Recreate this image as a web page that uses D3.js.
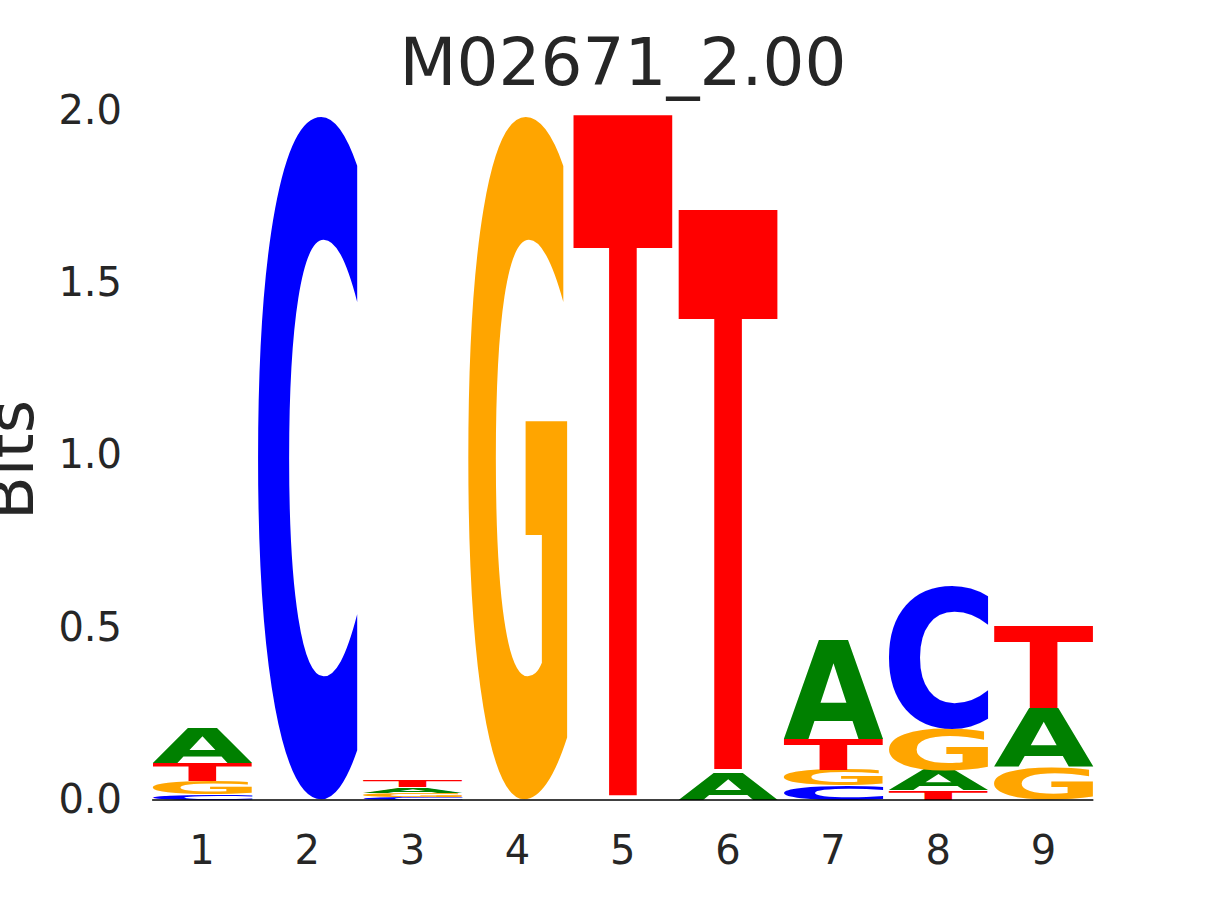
<!DOCTYPE html>
<html><head><meta charset="utf-8">
<script src="https://cdn.jsdelivr.net/npm/d3@7"></script>
<style>body{margin:0;background:#fff;} text{font-family:'DejaVu Sans',sans-serif;}</style>
</head><body><svg id="chart" width="1215" height="900"></svg>
<script>
const positions = [1, 2, 3, 4, 5, 6, 7, 8, 9];
const letters = ['A', 'C', 'G', 'T'];
const bitsA = [0.100, 0.000, 0.016, 0.000, 0.000, 0.079, 0.288, 0.059, 0.170];
const bitsC = [0.017, 1.990, 0.008, 0.000, 0.000, 0.000, 0.042, 0.417, 0.000];
const bitsG = [0.038, 0.000, 0.013, 1.990, 0.000, 0.000, 0.045, 0.120, 0.095];
const bitsT = [0.052, 0.000, 0.020, 0.000, 1.990, 1.636, 0.090, 0.028, 0.241];
const yTicks = [0, 0.5, 1.0, 1.5, 2.0];
const titleText = 'M02671_2.00';
const yLabelText = 'Bits';
const letterColors = {A: '#008000', C: '#0000ff', G: '#ffa500', T: '#ff0000'};

const bits = {A: bitsA, C: bitsC, G: bitsG, T: bitsT};
const svg = d3.select('#chart');
const textColor = '#262626';

const x = d3.scaleBand().domain(positions).range([149.5, 1096]).paddingInner(0.05).paddingOuter(0.025);
const y = d3.scaleLinear().domain([0, 2]).range([800, 111]);

// glyph ink metrics
const ctx = document.createElement('canvas').getContext('2d');
const FS = 200;
ctx.font = `bold ${FS}px 'DejaVu Sans'`;
const metrics = {};
letters.forEach(l => {
  const m = ctx.measureText(l);
  metrics[l] = {L: m.actualBoundingBoxLeft, R: m.actualBoundingBoxRight, A: m.actualBoundingBoxAscent, D: m.actualBoundingBoxDescent};
});

const logo = svg.append('g');
positions.forEach((p, i) => {
  const stack = letters.map(l => ({l, v: bits[l][i]})).filter(d => d.v > 0).sort((a, b) => a.v - b.v);
  let base = 0;
  stack.forEach(d => {
    const m = metrics[d.l];
    const W = m.L + m.R, H = m.A + m.D;
    const bx = x(p), bw = x.bandwidth();
    const yTop = y(base + d.v), yBot = y(base);
    const bh = yBot - yTop;
    logo.append('text').text(d.l)
      .attr('font-size', FS).attr('font-weight', 'bold')
      .attr('fill', letterColors[d.l])
      .attr('transform', `translate(${bx},${yTop}) scale(${bw / W},${bh / H}) translate(${m.L},${m.A})`);
    base += d.v;
  });
});

// baseline
svg.append('line')
  .attr('x1', x(positions[0])).attr('x2', x(positions[positions.length - 1]) + x.bandwidth())
  .attr('y1', y(0)).attr('y2', y(0))
  .attr('stroke', '#000').attr('stroke-width', 1.3);

// axes
const yAxis = svg.append('g').attr('transform', 'translate(122,0)')
  .call(d3.axisLeft(y).tickValues(yTicks).tickFormat(d3.format('.1f')).tickSize(0).tickPadding(0));
yAxis.select('.domain').remove();
yAxis.selectAll('text').attr('font-size', 40).attr('fill', textColor).attr('font-family', "'DejaVu Sans'").attr('dy', '0.31em');

const xAxis = svg.append('g').attr('transform', `translate(0,${y(0)})`)
  .call(d3.axisBottom(x).tickSize(0).tickPadding(35.6));
xAxis.select('.domain').remove();
xAxis.selectAll('text').attr('font-size', 40).attr('fill', textColor).attr('font-family', "'DejaVu Sans'");

// title
svg.append('text').text(titleText)
  .attr('x', 623).attr('y', 85).attr('text-anchor', 'middle')
  .attr('font-size', 66).attr('fill', textColor);

// y label
svg.append('text').text(yLabelText)
  .attr('transform', 'translate(33,460) rotate(-90)').attr('text-anchor', 'middle')
  .attr('font-size', 64).attr('fill', textColor);
</script></body></html>
